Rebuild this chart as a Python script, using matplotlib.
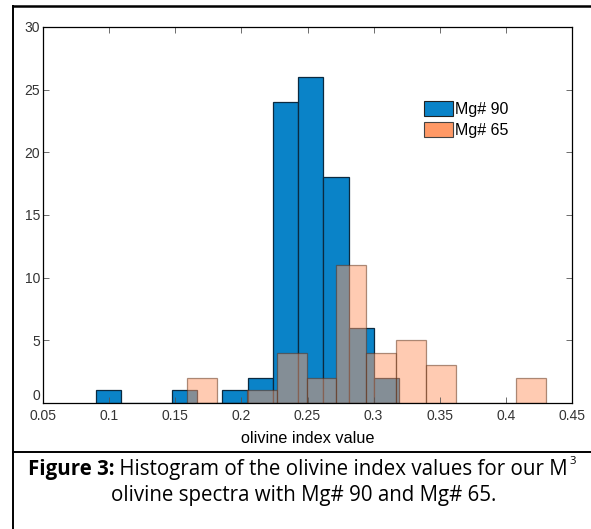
import numpy as np
import matplotlib.pyplot as plt
from matplotlib.lines import Line2D
from matplotlib.patches import Patch

# Histogram bins
mg90_range = (0.0900, 0.3193)
mg90_counts = [1, 0, 0, 1, 0, 1, 2, 24, 26, 18, 6, 2]
mg65_range = (0.1590, 0.4300)
mg65_counts = [2, 0, 1, 4, 2, 11, 4, 5, 3, 0, 0, 2]

labels = ['Mg# 90', 'Mg# 65']
x_ticks = [0.05, 0.1, 0.15, 0.2, 0.25, 0.3, 0.35, 0.4, 0.45]
x_ticklabels = ['0.05', '0.1', '0.15', '0.2', '0.25', '0.3', '0.35', '0.4', '0.45']
y_ticks = [0, 5, 10, 15, 20, 25, 30]

blue = '#0A83C8'
salmon = '#FF9966'

W, H = 591, 529
fig = plt.figure(figsize=(W / 100, H / 100), dpi=100)
ax = fig.add_axes([43 / W, 1 - 403 / H, (572 - 43) / W, (403 - 27) / H])

edges90 = np.linspace(mg90_range[0], mg90_range[1], len(mg90_counts) + 1)
edges65 = np.linspace(mg65_range[0], mg65_range[1], len(mg65_counts) + 1)

ax.bar(edges90[:-1], mg90_counts, width=np.diff(edges90), align='edge',
       color=blue, edgecolor='#0b2a40', linewidth=0.9)
ax.bar(edges65[:-1], mg65_counts, width=np.diff(edges65), align='edge',
       color=salmon, alpha=0.5, edgecolor='#5a2a10', linewidth=0.9)

ax.set_xlim(0.05, 0.45)
ax.set_ylim(0, 30)
ax.set_xticks(x_ticks)
ax.set_xticklabels(x_ticklabels)
ax.set_yticks(y_ticks)
ax.tick_params(direction='in', length=4, width=0.6, top=True, right=True,
               labelsize=10, labelcolor='#333333', color='#555555', pad=2)
ax.tick_params(axis='x', pad=4)
for lab in ax.get_xticklabels() + ax.get_yticklabels():
    lab.set_family('Liberation Sans')
# the "0" on the y axis sits just above the axis line, as in MATLAB
ax.get_yticklabels()[0].set_verticalalignment('bottom')
for s in ax.spines.values():
    s.set_linewidth(0.9)
ax.set_xlabel('olivine index value', fontsize=11.7, family='Liberation Sans', labelpad=6)

handles = [Patch(facecolor=blue, edgecolor='#222222', linewidth=0.8),
           Patch(facecolor=salmon, edgecolor='#444444', linewidth=0.8)]
fig.legend(handles, labels, loc='upper left', bbox_to_anchor=(424 / W, 1 - 101 / H),
           bbox_transform=fig.transFigure, frameon=False, borderpad=0, borderaxespad=0,
           handlelength=1.8, handleheight=1.1, handletextpad=0.12, labelspacing=0.3,
           prop={'family': 'Liberation Sans', 'size': 11.5})

# outer frame lines
fig.add_artist(Line2D([12.5 / W, 1], [1 - 6 / H, 1 - 6 / H], color='black', lw=1.8))
fig.add_artist(Line2D([12.5 / W, 12.5 / W], [0, 1 - 6 / H], color='black', lw=1.4))
fig.add_artist(Line2D([12.5 / W, 1], [1 - 452 / H, 1 - 452 / H], color='black', lw=1.4))

# caption, sized so that the first line spans about 545 px like the reference
cap_font = 'Open Sans'
r = fig.canvas.get_renderer()
part1 = 'Figure 3:'
part2 = ' Histogram of the olivine index values for our M'


def line_width(size):
    a = fig.text(0, 0, part1, fontsize=size, family=cap_font, weight='bold')
    b = fig.text(0, 0, part2, fontsize=size, family=cap_font)
    w = a.get_window_extent(renderer=r).width + b.get_window_extent(renderer=r).width
    a.remove()
    b.remove()
    return w


cap_size = 14 * 543 / line_width(14)
t1 = fig.text(28 / W, 1 - 469 / H, part1, fontsize=cap_size, family=cap_font,
              weight='bold', va='center', ha='left')
bb = t1.get_window_extent(renderer=r)
t2 = fig.text(bb.x1 / W, 1 - 469 / H, part2, fontsize=cap_size,
              family=cap_font, va='center', ha='left')
bb2 = t2.get_window_extent(renderer=r)
fig.text(bb2.x1 / W + 1 / W, 1 - 461 / H, '3', fontsize=cap_size * 0.55, family=cap_font,
         va='center', ha='left')
fig.text(304 / W, 1 - 496 / H, 'olivine spectra with Mg# 90 and Mg# 65.',
         fontsize=cap_size, family=cap_font, va='center', ha='center')

fig.savefig('out.png', dpi=100)
